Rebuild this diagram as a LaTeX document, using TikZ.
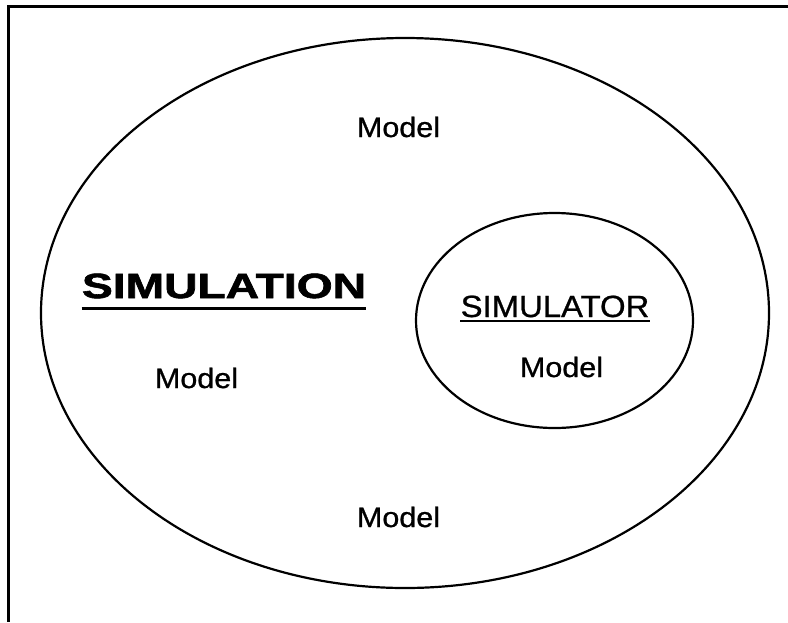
\documentclass[tikz,border=0pt]{standalone}
\usepackage{fontspec}
\setmainfont[UprightFeatures={FakeBold=0.8}, BoldFeatures={FakeBold=1.6}]{Liberation Sans}
\usetikzlibrary{shapes.geometric}
\begin{document}
\begin{tikzpicture}[x=1pt, y=-1pt,
  frameline/.style={line width=2.6pt, line join=miter},
  ring/.style={draw, ellipse, line width=2.2pt, inner sep=0pt},
  modeltext/.style={font=\fontsize{28}{28}\selectfont, inner sep=0pt, anchor=base, xscale=1.09},
  bigtitle/.style={font=\fontsize{35}{35}\selectfont\bfseries, inner sep=0pt, anchor=base, xscale=1.32},
  smalltitle/.style={font=\fontsize{30.7}{30.7}\selectfont, inner sep=0pt, anchor=base, xscale=1.07}]
  \useasboundingbox (0,0) rectangle (788,622);
  \fill[white] (0,0) rectangle (788,622);

  % open frame: top and left edges only
  \draw[frameline] (788,6.5) -- (8.5,6.5) -- (8.5,622);

  % the two sets
  \node[ring, minimum width=728pt, minimum height=550pt] (outer) at (405,313) {};
  \node[ring, minimum width=277pt, minimum height=215pt] (inner) at (554.5,320.5) {};

  % titles with underlines
  \node[bigtitle] (simulation) at (224,298) {SIMULATION};
  \draw[line width=2.8pt] ([yshift=-10pt]simulation.south west) -- ([yshift=-10pt]simulation.south east);

  \node[smalltitle] (simulator) at (555,317) {SIMULATOR};
  \draw[line width=1.8pt] ([yshift=-3.5pt]simulator.south west) -- ([yshift=-3.5pt]simulator.south east);

  % model labels
  \node[modeltext] (modeltop) at (398.5,137) {Model};
  \node[modeltext] (modelleft) at (196.5,388) {Model};
  \node[modeltext] (modelinner) at (561.5,377) {Model};
  \node[modeltext] (modelbottom) at (398.5,527) {Model};
\end{tikzpicture}
\end{document}
